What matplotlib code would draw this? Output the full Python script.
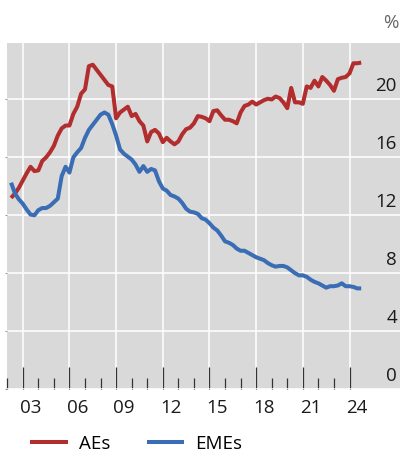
import numpy as np
import pandas as pd
import matplotlib
matplotlib.use("Agg")
import matplotlib.pyplot as plt
from matplotlib.ticker import FixedLocator

plt.rcParams['font.family'] = ['Open Sans', 'DejaVu Sans']

# Quarterly observations 2002Q1 - 2024Q3
quarters = pd.period_range("2002Q1", "2024Q3", freq="Q")

aes = [13.2, 13.5, 13.9, 14.4, 14.9, 15.35, 15.05, 15.1, 15.75, 16.0,
       16.35, 16.8, 17.5, 18.0, 18.2, 18.2, 19.0, 19.5, 20.4, 20.7,
       22.3, 22.4, 22.05, 21.7, 21.35, 21.0, 20.9, 18.7, 19.1, 19.3,
       19.5, 18.85, 19.0, 18.5, 18.2, 17.1, 17.75, 17.9, 17.65, 17.05,
       17.35, 17.1, 16.9, 17.1, 17.6, 17.95, 18.05, 18.35, 18.85, 18.8,
       18.7, 18.5, 19.2, 19.25, 18.9, 18.6, 18.6, 18.5, 18.35, 19.1,
       19.55, 19.65, 19.85, 19.65, 19.8, 19.95, 20.05, 20.0, 20.2, 20.1,
       19.8, 19.4, 20.8, 19.8, 19.8, 19.7, 20.9, 20.8, 21.3, 20.9,
       21.55, 21.3, 21.0, 20.6, 21.4, 21.5, 21.55, 21.8, 22.5, 22.5,
       22.55]

emes = [14.25, 13.5, 13.1, 12.8, 12.4, 12.05, 12.0, 12.35, 12.5, 12.5,
        12.65, 12.9, 13.15, 14.7, 15.35, 14.95, 16.0, 16.35, 16.65, 17.35,
        17.9, 18.25, 18.6, 18.95, 19.1, 18.95, 18.3, 17.5, 16.55, 16.25,
        16.05, 15.85, 15.5, 15.0, 15.4, 15.0, 15.2, 15.1, 14.35, 13.85,
        13.7, 13.4, 13.3, 13.15, 12.85, 12.45, 12.25, 12.2, 12.1, 11.8,
        11.7, 11.45, 11.15, 10.95, 10.6, 10.2, 10.1, 9.95, 9.7, 9.55,
        9.55, 9.4, 9.25, 9.1, 9.0, 8.9, 8.7, 8.55, 8.45, 8.5,
        8.5, 8.4, 8.2, 8.0, 7.85, 7.85, 7.75, 7.55, 7.4, 7.3,
        7.15, 7.0, 7.1, 7.1, 7.15, 7.3, 7.1, 7.1, 7.05, 6.95,
        6.95]

series_names = ["AEs", "EMEs"]
series_colors = ["#b22d2d", "#3a6db4"]

y_ticks = [0, 4, 8, 12, 16, 20]
x_label_years = [2003, 2006, 2009, 2012, 2015, 2018, 2021, 2024]
x_labels = ["03", "06", "09", "12", "15", "18", "21", "24"]

# decimal year at quarter end
x = np.array([p.year + p.quarter / 4.0 for p in quarters])

W, H = 402, 454
fig = plt.figure(figsize=(W / 100, H / 100), dpi=100)
left_px, right_px, top_px, bottom_px = 7.2, 400, 43, 389
ax = fig.add_axes([left_px / W, 1 - bottom_px / H,
                   (right_px - left_px) / W, (bottom_px - top_px) / H])
ax.set_facecolor("#d9d9d9")
for s in ax.spines.values():
    s.set_visible(False)

ax.set_xlim(2002.0, 2002.0 + (right_px - left_px) / 15.56)
ax.set_ylim(0, 23.9)

# gridlines
ax.set_yticks(y_ticks)
ax.xaxis.set_major_locator(FixedLocator(x_label_years))
minor_years = [y for y in range(2002, 2024) if y not in x_label_years]
ax.xaxis.set_minor_locator(FixedLocator(minor_years))
ax.grid(True, which="major", color="white", linewidth=1.1, zorder=0)
ax.set_axisbelow(True)
ax.tick_params(axis="x", which="major", direction="in", length=15.5,
               width=0.9, color="#333333", labelbottom=False)
ax.tick_params(axis="x", which="minor", direction="in", length=7.6,
               width=0.9, color="#333333", labelbottom=False)
ax.tick_params(axis="y", which="major", direction="out", length=1.5,
               width=0.8, color="#9a9a9a", labelleft=False)

lines = []
for vals, name, col in zip([aes, emes], series_names, series_colors):
    ln, = ax.plot(x, vals, color=col, linewidth=2.9, label=name,
                  solid_joinstyle="round", solid_capstyle="butt", zorder=3)
    lines.append(ln)

# y labels (inside, right side, above gridlines)
for v in y_ticks:
    ax.annotate(str(v), xy=(1, v), xycoords=ax.get_yaxis_transform(),
                xytext=(-3, 13), textcoords="offset pixels",
                ha="right", va="center", fontsize=13.5, color="#1a1a1a")

# x labels between major ticks
for yr, lab in zip(x_label_years, x_labels):
    ax.annotate(lab, xy=(yr + 0.5, 0), xycoords=ax.get_xaxis_transform(),
                xytext=(0, -19), textcoords="offset pixels",
                ha="center", va="center", fontsize=13.5, color="#1a1a1a")

fig.text(399 / W, 1 - 23 / H, "%", ha="right", va="center",
         fontsize=13.5, color="#666666")

fig.legend(handles=lines, labels=series_names, loc="center left",
           bbox_to_anchor=(30 / W, 1 - 444 / H), ncol=2, frameon=False,
           fontsize=13.5, handlelength=2.0, handletextpad=0.6,
           columnspacing=1.95, borderpad=0, borderaxespad=0)

fig.savefig("out.png", dpi=100)
